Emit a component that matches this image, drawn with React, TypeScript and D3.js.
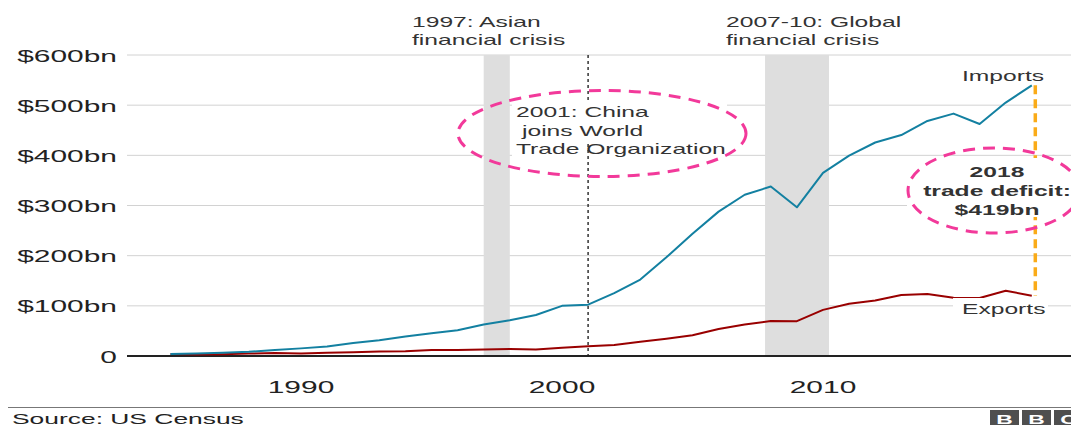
import React from 'react';
import * as d3 from 'd3';

const years = [1985, 1986, 1987, 1988, 1989, 1990, 1991, 1992, 1993, 1994, 1995, 1996, 1997, 1998, 1999, 2000, 2001, 2002, 2003, 2004, 2005, 2006, 2007, 2008, 2009, 2010, 2011, 2012, 2013, 2014, 2015, 2016, 2017, 2018];
const importsBn = [3.9, 4.8, 6.3, 8.5, 12.0, 15.2, 19.0, 25.7, 31.5, 38.8, 45.5, 51.5, 62.6, 71.2, 81.8, 100.0, 102.3, 125.2, 152.4, 196.7, 243.5, 287.8, 321.4, 337.8, 296.4, 364.9, 399.4, 425.6, 440.4, 468.5, 483.2, 462.4, 505.2, 539.5];
const exportsBn = [3.9, 3.1, 3.5, 5.0, 5.8, 4.8, 6.3, 7.4, 8.8, 9.3, 11.8, 12.0, 12.9, 14.2, 13.1, 16.2, 19.2, 22.1, 28.4, 34.4, 41.2, 53.7, 62.9, 69.7, 69.5, 91.9, 104.1, 110.5, 121.7, 123.7, 115.9, 115.6, 129.9, 120.3];
const yTicks = [0, 100, 200, 300, 400, 500, 600];
const yTickLabels = ['0', '$100bn', '$200bn', '$300bn', '$400bn', '$500bn', '$600bn'];
const xTicks = [1990, 2000, 2010];
const crisisBands = [
  { start: 1997, end: 1998 },
  { start: 2007.78, end: 2010.23 },
];
const wtoYear = 2001;
const deficitYear = 2018;

const FONT = "'Liberation Sans', Arial, Helvetica, sans-serif";
const SX = 1.76;

function T({ x, y, size, anchor = 'start', weight = 'normal', fill = '#333', children }: any) {
  return (
    <text
      transform={`translate(${x},${y}) scale(${SX},1)`}
      textAnchor={anchor}
      fontFamily={FONT}
      fontSize={size}
      fontWeight={weight}
      fill={fill}
    >
      {children}
    </text>
  );
}

export default function App() {
  const W = 1071;
  const H = 425;
  const x = d3.scaleLinear().domain([1985, 2018]).range([170.5, 1031.8]);
  const y = d3.scaleLinear().domain([0, 600]).range([356, 55]);
  const plotLeft = 127;
  const plotRight = W;

  const line = d3
    .line<number>()
    .x((_, i) => x(years[i]))
    .y((d) => y(d));

  const xw = x(wtoYear);
  const xd = x(deficitYear) + 3.5;
  const pink = '#F2399A';

  return (
    <svg
      width={W}
      height={H}
      style={{ position: 'absolute', left: 0, top: 0, background: '#fff' }}
    >
      <rect x={0} y={0} width={W} height={H} fill="#fff" />
      {/* gridlines */}
      {yTicks.filter((t) => t > 0).map((t) => (
        <line key={t} x1={plotLeft} x2={plotRight} y1={y(t)} y2={y(t)} stroke="#d2d2d2" strokeWidth={1} />
      ))}
      {/* crisis bands */}
      {crisisBands.map((b, i) => (
        <rect key={i} x={x(b.start)} y={y(600)} width={x(b.end) - x(b.start)} height={y(0) - y(600)} fill="#dedede" />
      ))}
      {/* white background for WTO text */}
      <rect x={512} y={100} width={215} height={60} fill="#fff" />
      {/* WTO dotted line */}
      <line x1={xw} x2={xw} y1={y(600)} y2={100} stroke="#333" strokeWidth={1.5} strokeDasharray="3 3" />
      <line x1={xw} x2={xw} y1={144} y2={359} stroke="#333" strokeWidth={1.5} strokeDasharray="3 3" />
      {/* zero baseline */}
      <line x1={plotLeft} x2={plotRight} y1={y(0)} y2={y(0)} stroke="#222" strokeWidth={2} />
      {/* lines */}
      <path d={line(exportsBn) || ''} fill="none" stroke="#990000" strokeWidth={2} strokeLinejoin="round" />
      <path d={line(importsBn) || ''} fill="none" stroke="#1380A1" strokeWidth={2} strokeLinejoin="round" />
      {/* orange deficit line */}
      <line x1={xd} x2={xd} y1={y(importsBn[importsBn.length - 1])} y2={y(exportsBn[exportsBn.length - 1])} stroke="#FAAB18" strokeWidth={3.5} strokeDasharray="9 5" />
      {/* white box for deficit text */}
      <rect x={907} y={158} width={164} height={59} fill="#fff" />
      {/* Exports label background */}
      <rect x={953} y={298} width={95} height={18} fill="#fff" />

      {/* y labels */}
      {yTicks.map((t, i) => (
        <T key={t} x={117} y={y(t) + 6.5} size={17} anchor="end" fill="#222">{yTickLabels[i]}</T>
      ))}
      {/* x labels */}
      {xTicks.map((t) => (
        <T key={t} x={x(t)} y={393} size={17} anchor="middle" fill="#222">{String(t)}</T>
      ))}

      {/* annotations */}
      <T x={412} y={27} size={14}>1997: Asian</T>
      <T x={412} y={45} size={14}>financial crisis</T>
      <T x={726} y={27} size={14}>2007-10: Global</T>
      <T x={726} y={45} size={14}>financial crisis</T>

      <T x={516} y={117} size={14}>2001: China</T>
      <T x={522} y={136} size={14}>joins World</T>
      <T x={516} y={154} size={14}>Trade Organization</T>

      <T x={962} y={81} size={14}>Imports</T>
      <T x={962} y={314} size={14}>Exports</T>

      <T x={997} y={177} size={14} anchor="middle" weight="bold">2018</T>
      <T x={997} y={196} size={14} anchor="middle" weight="bold">trade deficit:</T>
      <T x={997} y={215} size={14} anchor="middle" weight="bold">$419bn</T>

      {/* pink ellipses */}
      <ellipse cx={602} cy={133.5} rx={144} ry={43} fill="none" stroke={pink} strokeWidth={3} strokeDasharray="12 8" />
      <ellipse cx={994} cy={190.5} rx={86} ry={42.5} fill="none" stroke={pink} strokeWidth={3} strokeDasharray="12 8" />

      {/* footer */}
      <line x1={8} x2={W} y1={407.5} y2={407.5} stroke="#777" strokeWidth={1} />
      <T x={12} y={424} size={15} fill="#222">Source: US Census</T>
      {['B', 'B', 'C'].map((c, i) => (
        <g key={i}>
          <rect x={990 + i * 32} y={410} width={29} height={18} fill="#4f4f4f" />
          <T x={990 + i * 32 + 14.5} y={424} size={13} anchor="middle" weight="bold" fill="#fff">{c}</T>
        </g>
      ))}
    </svg>
  );
}
